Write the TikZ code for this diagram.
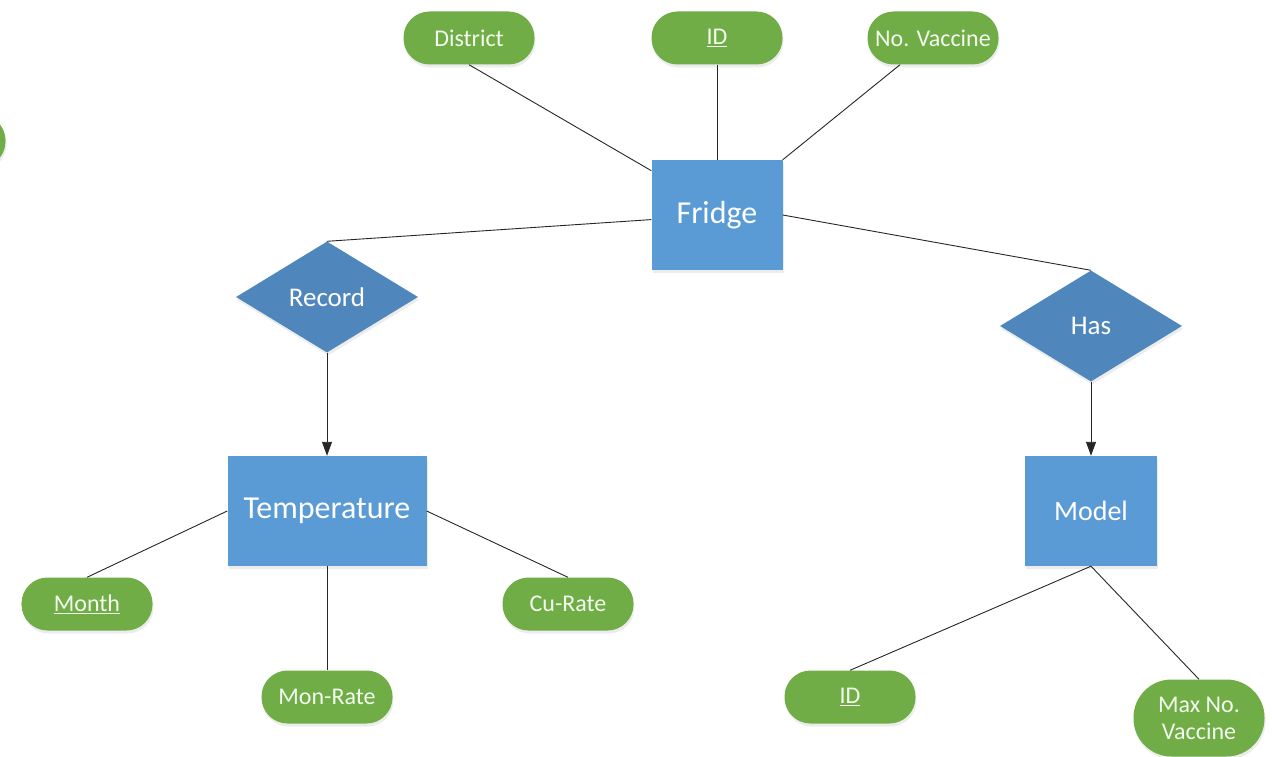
\documentclass[tikz,border=0pt]{standalone}
\usepackage{fontspec}
\setmainfont{Carlito}
\usetikzlibrary{shapes.geometric,arrows.meta,shadows}
\definecolor{entblue}{HTML}{5B9BD5}
\definecolor{relblue}{HTML}{4F87BD}
\definecolor{attgreen}{HTML}{70AD47}
\definecolor{txtpale}{HTML}{F4FBEF}
\tikzset{
  shd/.style={drop shadow={opacity=0.15,shadow xshift=1bp,shadow yshift=-3bp}},
  entity/.style={rectangle, fill=entblue, text=white, minimum width=131bp, minimum height=110bp, inner sep=0pt, shd, font=\fontsize{32bp}{36bp}\selectfont},
  relation/.style={diamond, fill=relblue, text=white, minimum width=182bp, minimum height=111bp, inner sep=0pt, shd, font=\fontsize{27bp}{31bp}\selectfont},
  attrib/.style={rectangle, rounded corners=26bp, fill=attgreen, text=txtpale, minimum width=131bp, minimum height=53bp, inner sep=0pt, shd, align=center, font=\fontsize{24bp}{28bp}\selectfont},
  conn/.style={draw=black!85, line width=0.9bp},
  arr/.style={conn, -{Triangle[length=14bp,width=10bp]}}
}
\begin{document}
\begin{tikzpicture}[x=1bp,y=-1bp]
\useasboundingbox (0,0) rectangle (1272,757);
\clip (0,0) rectangle (1272,757);
% nodes
\node[attrib] (offleft) at (-60,141) {};
\node[attrib] (district) at (469,38) {District};
\node[attrib] (idtop) at (717,38) {\underline{ID}};
\node[attrib] (novac) at (933,38) {No. Vaccine};
\node[entity] (fridge) at (717,215) {\raisebox{-3bp}{Fridge}};
\node[relation] (record) at (327,297) {Record};
\node[relation] (has) at (1091,326) {Has};
\node[entity, minimum width=199bp] (temp) at (327,511) {\raisebox{-3bp}{Temperature}};
\node[entity, minimum width=132bp, font=\fontsize{28bp}{32bp}\selectfont] (model) at (1091,511) {Model};
\node[attrib] (month) at (87,604) {\underline{Month}};
\node[attrib] (monrate) at (327,697) {Mon-Rate};
\node[attrib] (curate) at (568,604) {Cu-Rate};
\node[attrib] (idbot) at (850,697) {\underline{ID}};
\node[attrib, minimum height=77bp, rounded corners=38bp, font=\fontsize{24bp}{27bp}\selectfont] (maxvac) at (1199,718) {Max No.\\Vaccine};
% connectors
\draw[conn] (district.south) -- (fridge.146.5);
\draw[conn] (idtop.south) -- (fridge.north);
\draw[conn] (novac.219) -- (fridge.north east);
\draw[conn] (fridge.184) -- (record.north);
\draw[conn] (fridge.east) -- (has.north);
\draw[arr] (record.south) -- (temp.north);
\draw[arr] (has.south) -- (model.north);
\draw[conn] (temp.west) -- (month.north);
\draw[conn] (temp.south) -- (monrate.north);
\draw[conn] (temp.east) -- (curate.north);
\draw[conn] (model.south) -- (idbot.north);
\draw[conn] (model.south) -- (maxvac.north);
\end{tikzpicture}
\end{document}
